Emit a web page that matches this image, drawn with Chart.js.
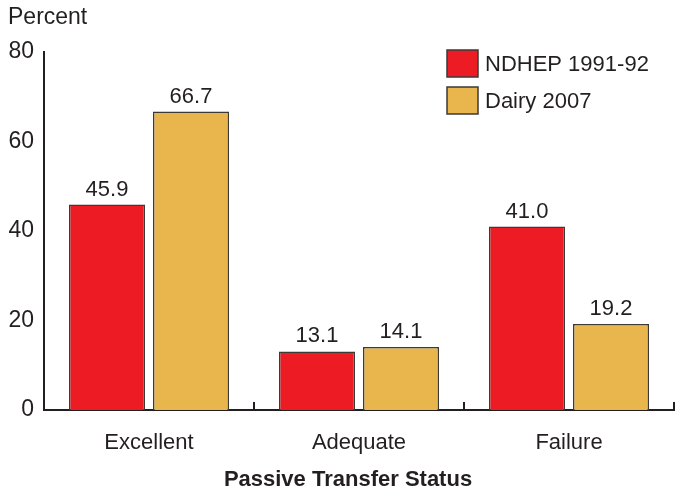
<!DOCTYPE html>
<html>
<head>
<meta charset="utf-8">
<script src="https://cdn.jsdelivr.net/npm/chart.js@4/dist/chart.umd.min.js"></script>
<style>
  html, body { margin: 0; padding: 0; background: #fff; }
  #wrap { width: 675px; height: 493px; position: relative; }
</style>
</head>
<body>
<div id="wrap"><canvas id="passiveChart"></canvas></div>
<script>
const categories = ['Excellent', 'Adequate', 'Failure'];
const ndhep = [45.9, 13.1, 41.0];
const dairy = [66.7, 14.1, 19.2];
const seriesNames = ['NDHEP 1991-92', 'Dairy 2007'];
const yTicks = [0, 20, 40, 60, 80];

const INK = '#231f20';
const FONT = '"Liberation Sans", Arial, sans-serif';

// text, legend and inward category ticks
const extras = {
  id: 'extras',
  afterDatasetsDraw(chart) {
    const ctx = chart.ctx;
    const x = chart.scales.x;
    const area = chart.chartArea;
    ctx.save();

    // ticks pointing up between categories
    const half = (x.getPixelForValue(1) - x.getPixelForValue(0)) / 2;
    ctx.strokeStyle = INK;
    ctx.lineWidth = 2;
    categories.forEach((c, i) => {
      const px = Math.round(x.getPixelForValue(i) + half);
      ctx.beginPath();
      ctx.moveTo(px, area.bottom);
      ctx.lineTo(px, area.bottom - 8);
      ctx.stroke();
    });

    // value labels
    ctx.fillStyle = INK;
    ctx.font = '22px ' + FONT;
    ctx.textAlign = 'center';
    ctx.textBaseline = 'bottom';
    chart.data.datasets.forEach((ds, di) => {
      chart.getDatasetMeta(di).data.forEach((bar, i) => {
        ctx.fillText(ds.data[i].toFixed(1), bar.x, bar.y - 4);
      });
    });

    // legend
    ctx.textAlign = 'left';
    ctx.textBaseline = 'middle';
    chart.data.datasets.forEach((ds, di) => {
      const top = 50 + di * 37;
      ctx.fillStyle = ds.backgroundColor;
      ctx.fillRect(447, top, 31, 27);
      ctx.strokeStyle = '#3d3935';
      ctx.lineWidth = 1.5;
      ctx.strokeRect(447, top, 31, 27);
      ctx.fillStyle = INK;
      ctx.fillText(ds.label, 485, top + 15);
    });

    // axis titles
    ctx.font = '23px ' + FONT;
    ctx.fillText('Percent', 8, 18);
    ctx.font = 'bold 22px ' + FONT;
    ctx.textAlign = 'center';
    ctx.fillText('Passive Transfer Status', 348, 480);
    ctx.restore();
  }
};

new Chart(document.getElementById('passiveChart'), {
  type: 'bar',
  data: {
    labels: categories,
    datasets: [
      {
        label: seriesNames[0],
        data: ndhep,
        backgroundColor: '#ed1c24',
        borderColor: '#3d3935',
        borderWidth: 1.5,
        categoryPercentage: 0.8,
        barPercentage: 0.905
      },
      {
        label: seriesNames[1],
        data: dairy,
        backgroundColor: '#e8b64c',
        borderColor: '#3d3935',
        borderWidth: 1.5,
        categoryPercentage: 0.8,
        barPercentage: 0.905
      }
    ]
  },
  options: {
    responsive: true,
    maintainAspectRatio: false,
    animation: false,
    layout: { padding: { top: 52, right: 1, left: 0, bottom: 0 } },
    plugins: {
      legend: { display: false },
      tooltip: { enabled: false }
    },
    scales: {
      x: {
        grid: { display: false, drawTicks: false },
        border: { display: true, color: INK, width: 2 },
        ticks: { color: INK, font: { family: FONT, size: 22 }, padding: 20 },
        afterFit(scale) { scale.height = 83; }
      },
      y: {
        min: 0,
        max: 80,
        afterBuildTicks(scale) { scale.ticks = yTicks.map(v => ({ value: v })); },
        grid: { display: false, drawTicks: false },
        border: { display: true, color: INK, width: 2 },
        ticks: { color: INK, font: { family: FONT, size: 23 }, padding: 10 },
        afterFit(scale) { scale.width = 44; }
      }
    }
  },
  plugins: [extras]
});
</script>
</body>
</html>
